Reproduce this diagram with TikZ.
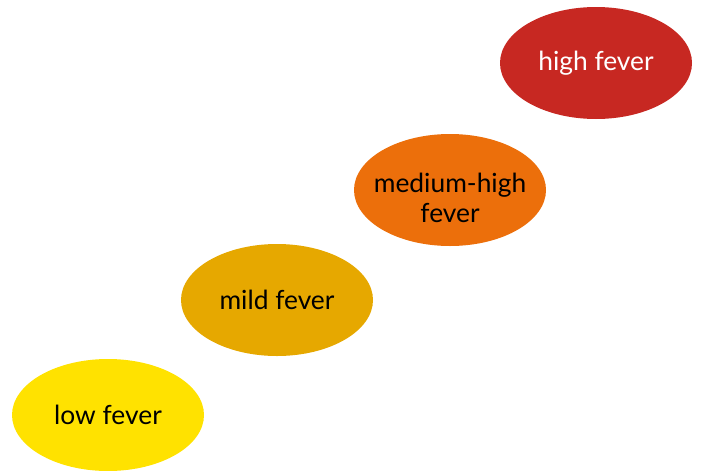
\documentclass[tikz,border=0pt]{standalone}
\usepackage{fontspec}
\setmainfont{Lato}
\usepackage{xcolor}
\usepackage{tikz}
\usetikzlibrary{shapes, positioning}

\definecolor{lowcol}{HTML}{FFE200}
\definecolor{mildcol}{HTML}{E6A800}
\definecolor{medcol}{HTML}{EC6F0B}
\definecolor{highcol}{HTML}{C72822}

\tikzset{
    level/.style={ellipse, minimum width=3.84cm, minimum height=2.24cm,
        inner xsep=-0.2cm, inner ysep=0pt, align=center,
        font=\fontsize{15}{17}\selectfont}
}

\begin{document}
\begin{tikzpicture}
        \useasboundingbox (0,0) rectangle (14.04,9.4);
        % fever levels, lowest to highest
        \node[level, fill=lowcol] (low) at (2.16,1.1) {low fever};
        \node[level, fill=mildcol] (mild) at (5.54,3.4) {mild fever};
        \node[level, fill=medcol, text height=37pt, text depth=0pt] (medhigh) at (9.0,5.6) {medium-high\\fever};
        \node[level, fill=highcol, text=white] (high) at (11.92,8.14) {high fever};
    \end{tikzpicture}
\end{document}
